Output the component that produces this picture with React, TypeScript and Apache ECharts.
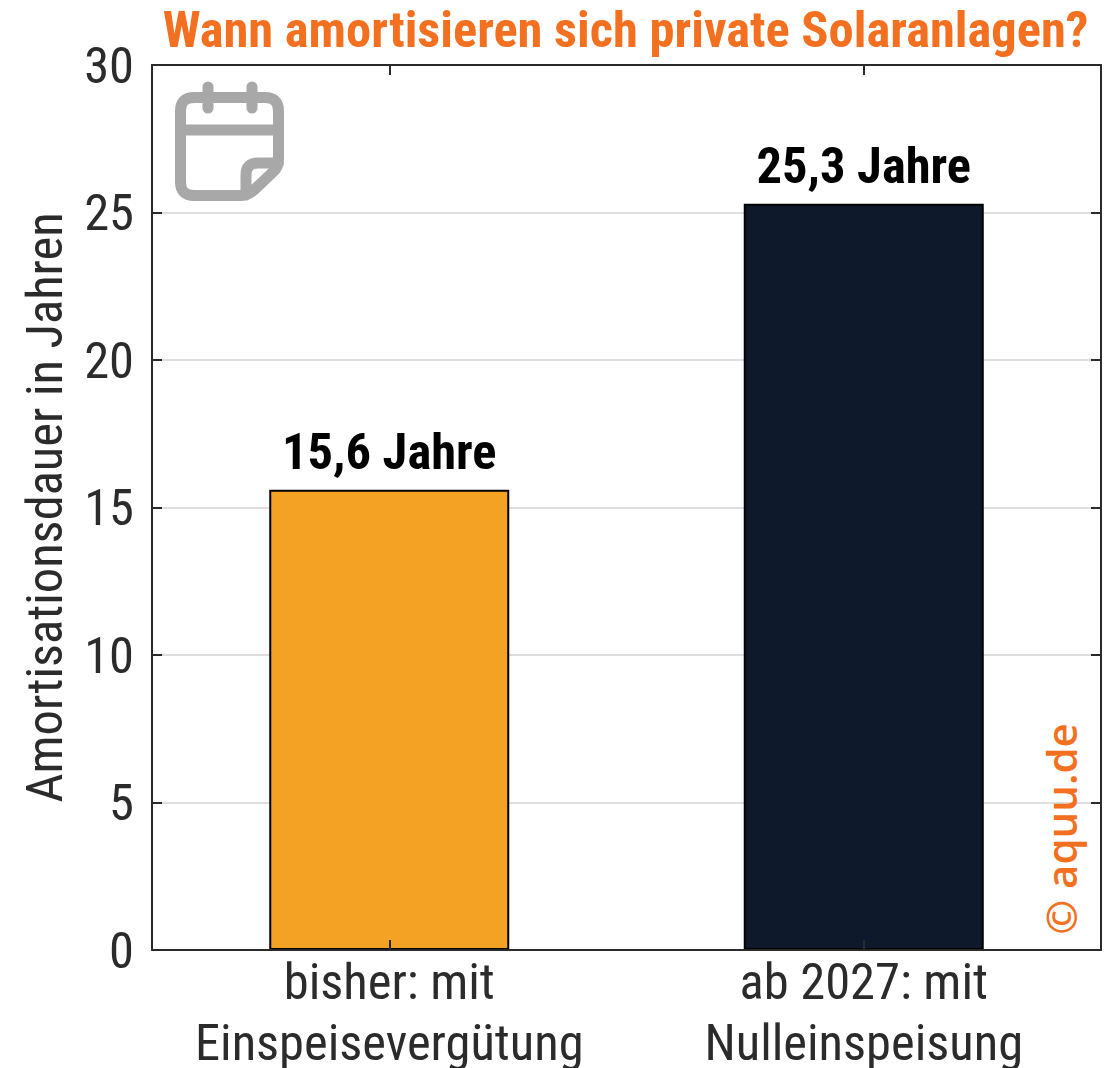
import React, { useEffect, useRef } from "react";
import * as echarts from "echarts";

const categories = ["bisher: mit\nEinspeisevergütung", "ab 2027: mit\nNulleinspeisung"];
const values = [15.6, 25.3];
const valueLabels = ["15,6 Jahre", "25,3 Jahre"];
const barColors = ["#f4a224", "#0e1a2b"];
const FONT = "'Roboto Condensed', Roboto, 'Liberation Sans Narrow', sans-serif";
const AXIS = "#2a2a2a";
const TEXT = "#2b2b2b";
const FS = 50.5;

echarts.graphic.registerShape(
  "calPath",
  echarts.graphic.extendPath(
    "M194 97.5 H265 Q278.5 97.5 278.5 111 V160 Q278.5 167 273 172 L254 190 Q248 195.5 240 195.5 H194 Q180.5 195.5 180.5 182 V111 Q180.5 97.5 194 97.5 Z M180.5 130 H278.5 M208 87 V108 M252 87 V108 M246 195 V175 Q246 163 258 163 H278.5",
    {}
  ) as any
);

const tickStyle = { show: true, inside: true, length: 10, lineStyle: { color: AXIS, width: 2 } };
const lineStyle = { show: true, onZero: false, lineStyle: { color: AXIS, width: 2 } };

export default function App() {
  const ref = useRef<HTMLDivElement>(null);
  useEffect(() => {
    const chart = echarts.init(ref.current!, undefined, { renderer: "svg" });
    chart.setOption({
      animation: false,
      backgroundColor: "#fff",
      grid: { left: 152, right: 19, top: 65, bottom: 118, outerBoundsMode: "none" },
      title: {
        text: "Wann amortisieren sich private Solaranlagen?",
        left: 620.5, top: -1, textAlign: "center",
        textStyle: { color: "#f37021", fontSize: FS, fontWeight: "bold", fontFamily: FONT },
      },
      xAxis: [
        {
          type: "category", data: categories, z: 5,
          axisLine: lineStyle,
          axisTick: { ...tickStyle, alignWithLabel: true },
          axisLabel: {
            interval: 0, hideOverlap: false, margin: -5,
            formatter: (v: string) => {
              const [a, b] = v.split("\n");
              return `{a|${a}}\n{b|${b}}`;
            },
            rich: {
              a: { color: TEXT, fontSize: FS, fontFamily: FONT, lineHeight: 72 },
              b: { color: TEXT, fontSize: FS, fontFamily: FONT, lineHeight: 50 },
            },
          },
        },
        {
          type: "category", data: categories, position: "top", z: 5,
          axisLine: lineStyle,
          axisTick: { ...tickStyle, alignWithLabel: true },
          axisLabel: { show: false },
        },
      ],
      yAxis: [
        {
          type: "value", min: 0, max: 30, interval: 5, z: 0,
          name: "Amortisationsdauer in Jahren", nameLocation: "middle", nameGap: 82, nameMoveOverlap: false,
          nameTextStyle: { color: TEXT, fontSize: FS, fontFamily: FONT },
          axisLine: { show: false },
          axisTick: { show: false },
          axisLabel: { color: TEXT, fontSize: FS, fontFamily: FONT, margin: 18 },
          splitLine: { lineStyle: { color: "#dedede", width: 2 } },
        },
        {
          type: "value", min: 0, max: 30, interval: 5, position: "left", z: 5,
          axisLine: lineStyle,
          axisTick: tickStyle,
          axisLabel: { show: false },
          splitLine: { show: false },
        },
        {
          type: "value", min: 0, max: 30, interval: 5, position: "right", z: 5,
          axisLine: lineStyle,
          axisTick: tickStyle,
          axisLabel: { show: false },
          splitLine: { show: false },
        },
      ],
      series: [{
        type: "bar", barWidth: 240, z: 2,
        data: values.map((v, i) => ({
          value: v,
          itemStyle: { color: barColors[i], borderColor: "#000", borderWidth: 2 },
          label: { show: true, position: "top", distance: 13, formatter: valueLabels[i],
            color: "#000", fontSize: FS, fontWeight: "bold", fontFamily: FONT },
        })),
      }],
      graphic: [
        { type: "calPath", x: 0, y: 0, z: 10,
          style: { fill: "none", stroke: "#a8a8a8", lineWidth: 11, lineCap: "round", lineJoin: "round" } },
        { type: "text", x: 1060, y: 829, rotation: Math.PI / 2, z: 10,
          style: { text: "© aquu.de", fill: "#f37021", font: "600 42px 'Open Sans', sans-serif",
            textAlign: "center", textVerticalAlign: "middle" } },
      ],
    });
    return () => chart.dispose();
  }, []);
  return <div ref={ref} style={{ width: 1120, height: 1068, position: "absolute", left: 0, top: 0 }} />;
}
